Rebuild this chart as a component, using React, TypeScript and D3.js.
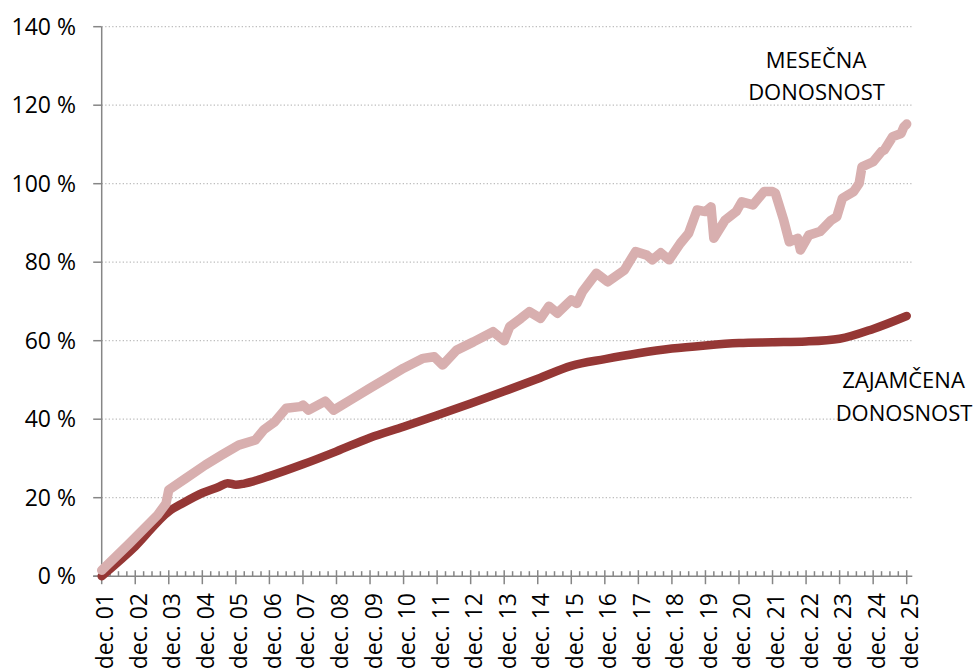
import React from "react";
import * as d3 from "d3";

// Months since dec. 2001 and cumulative return (%)
const mesecnaMonths = [0, 10, 20, 23, 24, 30, 37, 43, 49, 55, 58, 62, 66, 71, 72, 74, 80, 83, 89, 96, 101, 108, 115, 119, 122, 127, 133, 140, 144, 146, 150, 153, 157, 160, 163, 168, 170, 172, 177, 181, 187, 191, 195, 197, 200, 203, 207, 210, 213, 216, 218, 219, 223, 227, 229, 233, 237, 240, 241, 244, 246, 249, 250, 253, 257, 261, 263, 265, 269, 271, 272, 276, 279, 280, 283, 286, 287, 288];
const mesecnaValues = [1.5, 8.4, 15.6, 18.5, 22.0, 24.9, 28.3, 30.9, 33.4, 34.7, 37.3, 39.4, 42.8, 43.2, 43.6, 42.3, 44.6, 42.3, 44.9, 47.9, 50.0, 53.0, 55.5, 55.9, 53.8, 57.6, 59.7, 62.3, 60.0, 63.6, 65.7, 67.4, 65.7, 68.8, 67.0, 70.4, 69.5, 72.5, 77.2, 75.0, 78.0, 82.7, 81.8, 80.6, 82.4, 80.6, 84.8, 87.4, 93.3, 92.9, 94.1, 86.1, 90.7, 92.9, 95.4, 94.6, 98.0, 98.0, 97.6, 90.7, 85.2, 86.1, 83.1, 86.9, 87.8, 90.7, 91.6, 96.3, 98.0, 100.1, 104.3, 105.6, 108.2, 108.6, 112.0, 112.8, 114.5, 115.2];

const zajamcenaMonths = [0, 12, 24, 29, 36, 42, 45, 48, 51, 60, 72, 84, 96, 108, 120, 132, 144, 156, 168, 180, 192, 204, 216, 228, 240, 252, 264, 276, 288];
const zajamcenaValues = [0, 7.6, 16.5, 18.6, 21.2, 22.8, 23.7, 23.3, 23.6, 25.5, 28.5, 31.8, 35.3, 38.1, 41.0, 44.0, 47.1, 50.3, 53.6, 55.3, 56.8, 58.0, 58.8, 59.4, 59.6, 59.8, 60.5, 63.0, 66.3];

const yTicks = [0, 20, 40, 60, 80, 100, 120, 140];
const xLabels = ["dec. 01", "dec. 02", "dec. 03", "dec. 04", "dec. 05", "dec. 06", "dec. 07", "dec. 08", "dec. 09", "dec. 10", "dec. 11", "dec. 12", "dec. 13", "dec. 14", "dec. 15", "dec. 16", "dec. 17", "dec. 18", "dec. 19", "dec. 20", "dec. 21", "dec. 22", "dec. 23", "dec. 24", "dec. 25"];

const FONT = "'Open Sans', 'Noto Sans', sans-serif";
const AXIS = "#868686";

export default function App() {
  const x = d3.scaleLinear().domain([0, 288]).range([101.7, 906.7]);
  const y = d3.scaleLinear().domain([0, 140]).range([576.2, 26.7]);
  const xEnd = x(290);

  const line = d3
    .line<[number, number]>()
    .x((d) => x(d[0]))
    .y((d) => y(d[1]));
  const smooth = d3
    .line<[number, number]>()
    .x((d) => x(d[0]))
    .y((d) => y(d[1]))
    .curve(d3.curveMonotoneX);

  const mes: [number, number][] = mesecnaMonths.map((m, i) => [m, mesecnaValues[i]]);
  const zaj: [number, number][] = zajamcenaMonths.map((m, i) => [m, zajamcenaValues[i]]);

  const majorMonths = xLabels.map((_, i) => i * 12);
  const minorMonths = d3.range(0, 289, 3).filter((m) => m % 12 !== 0);

  return (
    <svg
      width={976}
      height={672}
      style={{ position: "absolute", left: 0, top: 0, background: "#fff" }}
      fontFamily={FONT}
    >
      {yTicks.slice(1).map((t) => (
        <line
          key={"g" + t}
          x1={x(0)}
          x2={xEnd}
          y1={y(t)}
          y2={y(t)}
          stroke="#bdbdbd"
          strokeWidth={1.3}
          strokeDasharray="1.3 2.2"
        />
      ))}
      <line x1={x(0)} x2={x(0)} y1={y(140)} y2={y(0)} stroke={AXIS} strokeWidth={1.5} />
      {yTicks.map((t) => (
        <g key={"y" + t}>
          <line x1={x(0) - 8.5} x2={x(0)} y1={y(t)} y2={y(t)} stroke={AXIS} strokeWidth={1.5} />
          <text x={76} y={y(t)} dy="0.36em" textAnchor="end" fontSize={23} fill="#000">
            {t} %
          </text>
        </g>
      ))}
      <line x1={x(0) - 8.5} x2={xEnd} y1={y(0)} y2={y(0)} stroke={AXIS} strokeWidth={1.5} />
      {minorMonths.map((m) => (
        <line key={"mi" + m} x1={x(m)} x2={x(m)} y1={y(0) - 5} y2={y(0)} stroke={AXIS} strokeWidth={1.5} />
      ))}
      {majorMonths.map((m, i) => (
        <g key={"ma" + m}>
          <line x1={x(m)} x2={x(m)} y1={y(0) - 6} y2={y(0) + 8} stroke={AXIS} strokeWidth={1.5} />
          <text
            transform={`translate(${x(m) + 11.5},${593}) rotate(-90)`}
            textAnchor="end"
            fontSize={23}
            fill="#000"
          >
            {xLabels[i]}
          </text>
        </g>
      ))}
      <path
        d={smooth(zaj) || ""}
        fill="none"
        stroke="#953735"
        strokeWidth={8.5}
        strokeLinecap="round"
        strokeLinejoin="round"
      />
      <path
        d={line(mes) || ""}
        fill="none"
        stroke="#d8afaf"
        strokeWidth={9.5}
        strokeLinecap="round"
        strokeLinejoin="round"
      />
      <text x={816} y={68} textAnchor="middle" fontSize={22} fill="#000">MESEČNA</text>
      <text x={816.5} y={99.5} textAnchor="middle" fontSize={22} fill="#000">DONOSNOST</text>
      <text x={903.5} y={387.5} textAnchor="middle" fontSize={22} fill="#000">ZAJAMČENA</text>
      <text x={904} y={421} textAnchor="middle" fontSize={22} fill="#000">DONOSNOST</text>
    </svg>
  );
}
